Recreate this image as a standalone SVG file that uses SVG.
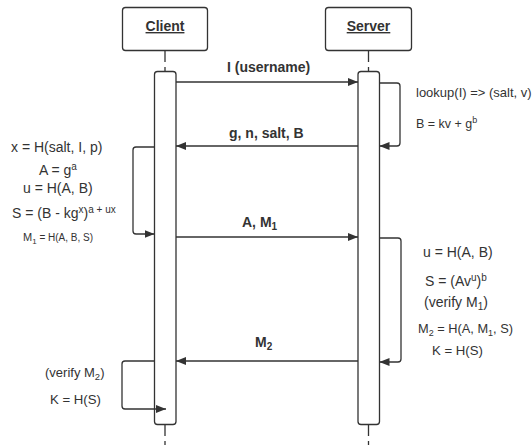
<svg xmlns="http://www.w3.org/2000/svg" width="532" height="445" viewBox="0 0 532 445">
<style>
.box{fill:#fff;stroke:#333;stroke-width:1.3}
.bar{fill:#fff;stroke:#333;stroke-width:1.3}
.life{stroke:#333;stroke-width:1.3;stroke-dasharray:12 5;fill:none}
.msg{stroke:#333;stroke-width:1.3;fill:none}
.t{font-family:"Liberation Sans",Arial,sans-serif;font-size:14px;fill:#333}
.b{font-family:"Liberation Sans",Arial,sans-serif;font-size:14px;font-weight:bold;fill:#333}
</style>
<defs>
<marker id="ah" viewBox="0 0 10 8" refX="10" refY="4" markerWidth="10" markerHeight="8" markerUnits="userSpaceOnUse" orient="auto">
<path d="M0,0 L10,4 L0,8 z" fill="#333"/>
</marker>
</defs>
<g id="lifelines">
<line class="life" x1="165" y1="50" x2="165" y2="445"/>
<line class="life" x1="368.5" y1="50" x2="368.5" y2="445"/>
</g>
<g id="client">
<rect class="box" x="122.5" y="7.5" width="85" height="43" rx="3"/>
<text class="b" x="165" y="31" text-anchor="middle" text-decoration="underline">Client</text>
<rect class="bar" x="154.5" y="71.5" width="21.5" height="353" rx="3"/>
</g>
<g id="server">
<rect class="box" x="325.5" y="7.5" width="86" height="43" rx="3"/>
<text class="b" x="368.5" y="31" text-anchor="middle" text-decoration="underline">Server</text>
<rect class="bar" x="358" y="71.5" width="21.5" height="353" rx="3"/>
</g>
<g id="connectors">
<line class="msg" x1="176" y1="82" x2="358" y2="82" marker-end="url(#ah)"/>
<path class="msg" d="M379.5,83 H397 Q400,83 400,86 V143 Q400,146 397,146 H379.5" marker-end="url(#ah)"/>
<line class="msg" x1="358" y1="146" x2="176" y2="146" marker-end="url(#ah)"/>
<path class="msg" d="M154.5,147 H136 Q133,147 133,150 V231 Q133,234 136,234 H154.5" marker-end="url(#ah)"/>
<line class="msg" x1="176" y1="237" x2="358" y2="237" marker-end="url(#ah)"/>
<path class="msg" d="M379.5,238 H398 Q401,238 401,241 V359 Q401,362 398,362 H379.5" marker-end="url(#ah)"/>
<line class="msg" x1="358" y1="361" x2="176" y2="361" marker-end="url(#ah)"/>
<path class="msg" d="M154.5,361 H125 Q122,361 122,364 V406 Q122,409 125,409 H166" marker-end="url(#ah)"/>
</g>
<g id="labels">
<text class="b" x="227" y="72">I (username)</text>
<text class="b" x="229" y="138">g, n, salt, B</text>
<text class="b" x="242" y="227">A, M<tspan style="font-size:10px" dy="3">1</tspan></text>
<text class="b" x="255" y="347">M<tspan style="font-size:10px" dy="3">2</tspan></text>
</g>
<g id="client-notes">
<text class="t" x="11" y="152">x = H(salt, I, p)</text>
<text class="t" x="39" y="175">A = g<tspan style="font-size:10px" dy="-5">a</tspan></text>
<text class="t" x="23" y="193">u = H(A, B)</text>
<text class="t" x="12" y="218">S = (B - kg<tspan style="font-size:10px" dy="-5">x</tspan><tspan dy="5">)</tspan><tspan style="font-size:10px" dy="-5">a + ux</tspan></text>
<text class="t" x="23" y="241" style="font-size:11px">M<tspan style="font-size:8px" dy="2.5">1</tspan><tspan dy="-2.5" style="font-size:10px"> = H(A, B, S)</tspan></text>
<text class="t" x="45" y="377" style="font-size:13px">(verify M<tspan style="font-size:9.5px" dy="3">2</tspan><tspan dy="-3">)</tspan></text>
<text class="t" x="50" y="404" style="font-size:13.2px">K = H(S)</text>
</g>
<g id="server-notes">
<text class="t" x="416" y="96.5" style="font-size:13px">lookup(I) =&gt; (salt, v)</text>
<text class="t" x="416" y="127.5" style="font-size:12.5px">B = kv + g<tspan style="font-size:9px" dy="-4.5">b</tspan></text>
<text class="t" x="423" y="257">u = H(A, B)</text>
<text class="t" x="425" y="286">S = (Av<tspan style="font-size:10px" dy="-5">u</tspan><tspan dy="5">)</tspan><tspan style="font-size:10px" dy="-5">b</tspan></text>
<text class="t" x="424" y="307">(verify M<tspan style="font-size:10px" dy="3">1</tspan><tspan dy="-3">)</tspan></text>
<text class="t" x="418" y="333" style="font-size:12.8px">M<tspan style="font-size:9px" dy="2.5">2</tspan><tspan dy="-2.5"> = H(A, M</tspan><tspan style="font-size:9px" dy="2.5">1</tspan><tspan dy="-2.5">, S)</tspan></text>
<text class="t" x="432" y="355" style="font-size:13.2px">K = H(S)</text>
</g>
</svg>
